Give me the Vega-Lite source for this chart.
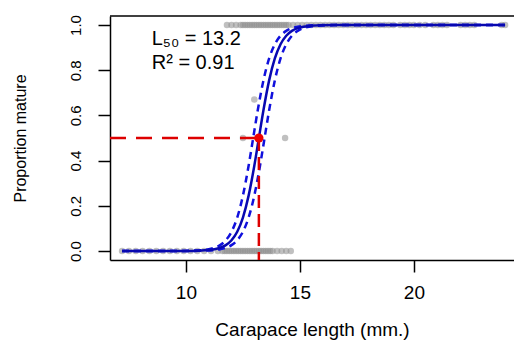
{
  "$schema": "https://vega.github.io/schema/vega-lite/v6.json",
  "width": 404,
  "height": 244,
  "autosize": {"type": "none"},
  "padding": {"left": 110, "top": 16, "right": 0, "bottom": 87},
  "background": "white",
  "config": {
    "view": {"stroke": null},
    "font": "Liberation Sans",
    "axis": {"grid": false, "domainColor": "black", "domainWidth": 1.5, "tickColor": "black", "tickWidth": 1.5, "tickSize": 12, "labelColor": "black", "titleColor": "black", "titleFontWeight": "normal", "labelFont": "Liberation Sans", "titleFont": "Liberation Sans"}
  },
  "datasets": {
    "pts": [
      {"x": 11.8, "p": 1}, {"x": 12.0, "p": 1}, {"x": 12.2, "p": 1}, {"x": 12.4, "p": 1}, {"x": 12.5, "p": 1}, {"x": 12.6, "p": 1}, {"x": 12.7, "p": 1}, {"x": 12.8, "p": 1}, {"x": 12.9, "p": 1}, {"x": 13.0, "p": 1}, {"x": 13.1, "p": 1}, {"x": 13.2, "p": 1}, {"x": 13.3, "p": 1}, {"x": 13.4, "p": 1}, {"x": 13.5, "p": 1}, {"x": 13.6, "p": 1}, {"x": 13.7, "p": 1}, {"x": 13.8, "p": 1}, {"x": 13.9, "p": 1}, {"x": 14.0, "p": 1}, {"x": 14.1, "p": 1}, {"x": 14.2, "p": 1}, {"x": 14.3, "p": 1}, {"x": 14.4, "p": 1}, {"x": 14.5, "p": 1},
      {"x": 14.7, "p": 1}, {"x": 14.9, "p": 1}, {"x": 15.1, "p": 1}, {"x": 15.3, "p": 1}, {"x": 15.5, "p": 1}, {"x": 15.7, "p": 1}, {"x": 15.9, "p": 1}, {"x": 16.1, "p": 1}, {"x": 16.3, "p": 1}, {"x": 16.5, "p": 1}, {"x": 16.7, "p": 1}, {"x": 16.9, "p": 1}, {"x": 17.1, "p": 1}, {"x": 17.3, "p": 1}, {"x": 17.5, "p": 1}, {"x": 17.7, "p": 1}, {"x": 17.9, "p": 1}, {"x": 18.1, "p": 1}, {"x": 18.3, "p": 1}, {"x": 18.5, "p": 1}, {"x": 18.7, "p": 1}, {"x": 18.9, "p": 1}, {"x": 19.1, "p": 1},
      {"x": 19.4, "p": 1}, {"x": 19.6, "p": 1}, {"x": 19.8, "p": 1}, {"x": 20.0, "p": 1}, {"x": 20.25, "p": 1}, {"x": 20.5, "p": 1}, {"x": 20.85, "p": 1}, {"x": 21.05, "p": 1}, {"x": 21.25, "p": 1}, {"x": 21.45, "p": 1}, {"x": 22.05, "p": 1}, {"x": 22.25, "p": 1}, {"x": 22.45, "p": 1}, {"x": 22.65, "p": 1}, {"x": 23.85, "p": 1}, {"x": 24.0, "p": 1},
      {"x": 7.2, "p": 0}, {"x": 7.5, "p": 0}, {"x": 7.8, "p": 0}, {"x": 8.1, "p": 0}, {"x": 8.4, "p": 0}, {"x": 8.7, "p": 0}, {"x": 9.0, "p": 0}, {"x": 9.3, "p": 0}, {"x": 9.6, "p": 0}, {"x": 9.9, "p": 0}, {"x": 10.2, "p": 0}, {"x": 10.5, "p": 0}, {"x": 10.8, "p": 0}, {"x": 11.1, "p": 0}, {"x": 11.4, "p": 0},
      {"x": 11.6, "p": 0}, {"x": 11.7, "p": 0}, {"x": 11.8, "p": 0}, {"x": 11.9, "p": 0}, {"x": 12.0, "p": 0}, {"x": 12.1, "p": 0}, {"x": 12.2, "p": 0}, {"x": 12.3, "p": 0}, {"x": 12.4, "p": 0}, {"x": 12.5, "p": 0}, {"x": 12.6, "p": 0}, {"x": 12.7, "p": 0}, {"x": 12.8, "p": 0}, {"x": 12.9, "p": 0}, {"x": 13.0, "p": 0}, {"x": 13.1, "p": 0}, {"x": 13.2, "p": 0}, {"x": 13.3, "p": 0}, {"x": 13.4, "p": 0}, {"x": 13.5, "p": 0}, {"x": 13.6, "p": 0}, {"x": 13.7, "p": 0}, {"x": 13.8, "p": 0}, {"x": 14.0, "p": 0}, {"x": 14.2, "p": 0}, {"x": 14.4, "p": 0}, {"x": 14.6, "p": 0},
      {"x": 12.5, "p": 0.5}, {"x": 13.0, "p": 0.67}, {"x": 14.35, "p": 0.5}
    ],
    "fit": [
      {"band": "fit", "x": 7.2, "p": 0}, {"band": "fit", "x": 9.0, "p": 0.00003}, {"band": "fit", "x": 10.0, "p": 0.0003}, {"band": "fit", "x": 10.5, "p": 0.0012}, {"band": "fit", "x": 11.0, "p": 0.0041}, {"band": "fit", "x": 11.25, "p": 0.0076}, {"band": "fit", "x": 11.5, "p": 0.0141}, {"band": "fit", "x": 11.75, "p": 0.026}, {"band": "fit", "x": 12.0, "p": 0.0474}, {"band": "fit", "x": 12.25, "p": 0.0851}, {"band": "fit", "x": 12.5, "p": 0.148}, {"band": "fit", "x": 12.75, "p": 0.245}, {"band": "fit", "x": 13.0, "p": 0.3775}, {"band": "fit", "x": 13.2, "p": 0.5}, {"band": "fit", "x": 13.4, "p": 0.6225}, {"band": "fit", "x": 13.65, "p": 0.755}, {"band": "fit", "x": 13.9, "p": 0.852}, {"band": "fit", "x": 14.15, "p": 0.915}, {"band": "fit", "x": 14.4, "p": 0.9526}, {"band": "fit", "x": 14.65, "p": 0.974}, {"band": "fit", "x": 14.9, "p": 0.986}, {"band": "fit", "x": 15.15, "p": 0.9924}, {"band": "fit", "x": 15.4, "p": 0.9959}, {"band": "fit", "x": 15.9, "p": 0.9988}, {"band": "fit", "x": 16.5, "p": 0.9997}, {"band": "fit", "x": 18.0, "p": 1}, {"band": "fit", "x": 24.0, "p": 1},
      {"band": "lower", "x": 7.2, "p": 0}, {"band": "lower", "x": 8.75, "p": 0.00003}, {"band": "lower", "x": 9.75, "p": 0.0003}, {"band": "lower", "x": 10.25, "p": 0.0012}, {"band": "lower", "x": 10.75, "p": 0.0041}, {"band": "lower", "x": 11.0, "p": 0.0076}, {"band": "lower", "x": 11.25, "p": 0.0141}, {"band": "lower", "x": 11.5, "p": 0.026}, {"band": "lower", "x": 11.75, "p": 0.0474}, {"band": "lower", "x": 12.0, "p": 0.0851}, {"band": "lower", "x": 12.25, "p": 0.148}, {"band": "lower", "x": 12.5, "p": 0.245}, {"band": "lower", "x": 12.75, "p": 0.3775}, {"band": "lower", "x": 12.95, "p": 0.5}, {"band": "lower", "x": 13.15, "p": 0.6225}, {"band": "lower", "x": 13.4, "p": 0.755}, {"band": "lower", "x": 13.65, "p": 0.852}, {"band": "lower", "x": 13.9, "p": 0.915}, {"band": "lower", "x": 14.15, "p": 0.9526}, {"band": "lower", "x": 14.4, "p": 0.974}, {"band": "lower", "x": 14.65, "p": 0.986}, {"band": "lower", "x": 14.9, "p": 0.9924}, {"band": "lower", "x": 15.15, "p": 0.9959}, {"band": "lower", "x": 15.65, "p": 0.9988}, {"band": "lower", "x": 16.25, "p": 0.9997}, {"band": "lower", "x": 18.0, "p": 1}, {"band": "lower", "x": 24.0, "p": 1},
      {"band": "upper", "x": 7.2, "p": 0}, {"band": "upper", "x": 9.25, "p": 0.00003}, {"band": "upper", "x": 10.25, "p": 0.0003}, {"band": "upper", "x": 10.75, "p": 0.0012}, {"band": "upper", "x": 11.25, "p": 0.0041}, {"band": "upper", "x": 11.5, "p": 0.0076}, {"band": "upper", "x": 11.75, "p": 0.0141}, {"band": "upper", "x": 12.0, "p": 0.026}, {"band": "upper", "x": 12.25, "p": 0.0474}, {"band": "upper", "x": 12.5, "p": 0.0851}, {"band": "upper", "x": 12.75, "p": 0.148}, {"band": "upper", "x": 13.0, "p": 0.245}, {"band": "upper", "x": 13.25, "p": 0.3775}, {"band": "upper", "x": 13.45, "p": 0.5}, {"band": "upper", "x": 13.65, "p": 0.6225}, {"band": "upper", "x": 13.9, "p": 0.755}, {"band": "upper", "x": 14.15, "p": 0.852}, {"band": "upper", "x": 14.4, "p": 0.915}, {"band": "upper", "x": 14.65, "p": 0.9526}, {"band": "upper", "x": 14.9, "p": 0.974}, {"band": "upper", "x": 15.15, "p": 0.986}, {"band": "upper", "x": 15.4, "p": 0.9924}, {"band": "upper", "x": 15.65, "p": 0.9959}, {"band": "upper", "x": 16.15, "p": 0.9988}, {"band": "upper", "x": 16.75, "p": 0.9997}, {"band": "upper", "x": 18.0, "p": 1}, {"band": "upper", "x": 24.0, "p": 1}
    ],
    "l50": [{"x": 13.2, "p": 0.5}],
    "ann": [
      {"x": 8.5, "p": 0.94, "label": "L₅₀ = 13.2"},
      {"x": 8.5, "p": 0.83, "label": "R² = 0.91"}
    ]
  },
  "layer": [
    {
      "data": {"name": "pts"},
      "mark": {"type": "circle", "size": 42, "color": "#8c8c8c", "opacity": 0.55},
      "encoding": {
        "x": {"field": "x", "type": "quantitative", "scale": {"domain": [6.67, 24.39], "nice": false, "zero": false},
          "axis": {"values": [10, 15, 20], "title": "Carapace length (mm.)", "labelFontSize": 19, "labelPadding": 11, "titleFontSize": 19, "titlePadding": 18, "labelFlush": false}},
        "y": {"field": "p", "type": "quantitative", "scale": {"domain": [-0.04, 1.04], "nice": false, "zero": false},
          "axis": {"values": [0, 0.2, 0.4, 0.6, 0.8, 1], "format": ".1f", "title": "Proportion mature", "labelAngle": 270, "labelAlign": "center", "labelBaseline": "bottom", "labelFontSize": 15, "labelPadding": 15, "titleFontSize": 16, "titlePadding": 40}}
      }
    },
    {
      "data": {"name": "fit"},
      "transform": [{"filter": "datum.band != 'fit'"}],
      "mark": {"type": "line", "color": "#1010dd", "strokeWidth": 2.5, "strokeDash": [7, 5], "interpolate": "monotone"},
      "encoding": {
        "x": {"field": "x", "type": "quantitative"},
        "y": {"field": "p", "type": "quantitative"},
        "detail": {"field": "band"}
      }
    },
    {
      "data": {"name": "fit"},
      "transform": [{"filter": "datum.band == 'fit'"}],
      "mark": {"type": "line", "color": "#0808b0", "strokeWidth": 2.5, "interpolate": "monotone"},
      "encoding": {
        "x": {"field": "x", "type": "quantitative"},
        "y": {"field": "p", "type": "quantitative"}
      }
    },
    {
      "data": {"values": [{}]},
      "mark": {"type": "rule", "color": "#dd0000", "strokeWidth": 2.5, "strokeDash": [16, 10]},
      "encoding": {"x": {"datum": 6.67}, "x2": {"datum": 13.2}, "y": {"datum": 0.5}}
    },
    {
      "data": {"values": [{}]},
      "mark": {"type": "rule", "color": "#dd0000", "strokeWidth": 2.5, "strokeDash": [13, 6]},
      "encoding": {"x": {"datum": 13.2}, "y": {"datum": 0.5}, "y2": {"datum": -0.04}}
    },
    {
      "data": {"name": "l50"},
      "mark": {"type": "circle", "size": 85, "color": "#ee0000", "opacity": 1},
      "encoding": {"x": {"field": "x", "type": "quantitative"}, "y": {"field": "p", "type": "quantitative"}}
    },
    {
      "data": {"name": "ann"},
      "mark": {"type": "text", "align": "left", "baseline": "middle", "fontSize": 20, "font": "Liberation Sans", "color": "black"},
      "encoding": {
        "x": {"field": "x", "type": "quantitative"},
        "y": {"field": "p", "type": "quantitative"},
        "text": {"field": "label"}
      }
    },
    {
      "data": {"values": [{}]},
      "mark": {"type": "rule", "color": "black", "strokeWidth": 1.5},
      "encoding": {"y": {"datum": 1.04}}
    }
  ]
}
